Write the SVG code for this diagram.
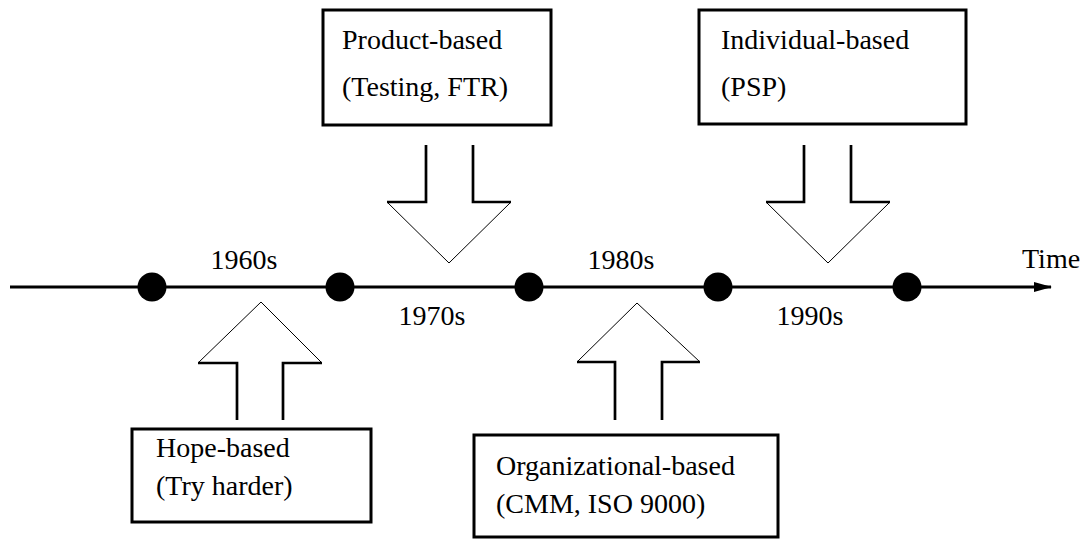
<svg xmlns="http://www.w3.org/2000/svg" width="1081" height="548" viewBox="0 0 1081 548">
<style>
text{font-family:"Liberation Serif","Times New Roman",serif;font-size:28px;fill:#000}
.box{fill:#fff;stroke:#000;stroke-width:3}
.shaft{fill:none;stroke:#000;stroke-width:2.7}
.head{fill:none;stroke:#000;stroke-width:1}
.dot{fill:#000}
</style>
<defs>
<marker id="ah" markerWidth="18" markerHeight="10" refX="17" refY="5" orient="auto" markerUnits="userSpaceOnUse">
<path d="M0,0 L18,5 L0,10 Z" fill="#000"/>
</marker>
</defs>
<g id="connectors">
<line x1="10" y1="287" x2="1051" y2="287" stroke="#000" stroke-width="3" marker-end="url(#ah)"/>
</g>
<g id="dots">
<circle class="dot" cx="152" cy="287" r="14.5"/>
<circle class="dot" cx="340" cy="287" r="14.5"/>
<circle class="dot" cx="529" cy="287" r="14.5"/>
<circle class="dot" cx="718" cy="287" r="14.5"/>
<circle class="dot" cx="907" cy="287" r="14.5"/>
</g>
<g id="labels">
<text x="244" y="269" text-anchor="middle">1960s</text>
<text x="432" y="325" text-anchor="middle">1970s</text>
<text x="621" y="269" text-anchor="middle">1980s</text>
<text x="810" y="325" text-anchor="middle">1990s</text>
<text x="1022" y="268">Time</text>
</g>
<g id="product">
<rect class="box" x="323" y="10" width="228" height="115"/>
<text x="342" y="49">Product-based</text>
<text x="342" y="96">(Testing, FTR)</text>
<path class="shaft" d="M426,145 V202 H387 M473,145 V202 H511"/>
<path class="head" d="M387,202 L449,263 L511,202"/>
</g>
<g id="individual">
<rect class="box" x="699" y="10" width="267" height="114"/>
<text x="721" y="49">Individual-based</text>
<text x="721" y="96">(PSP)</text>
<path class="shaft" d="M804,145 V202 H766 M851,145 V202 H890"/>
<path class="head" d="M766,202 L828,263 L890,202"/>
</g>
<g id="hope">
<rect class="box" x="132" y="429" width="239" height="93"/>
<text x="156" y="457">Hope-based</text>
<text x="156" y="495">(Try harder)</text>
<path class="shaft" d="M237,420 V363 H198 M283,420 V363 H322"/>
<path class="head" d="M198,363 L261,302 L322,363"/>
</g>
<g id="organizational">
<rect class="box" x="474" y="435" width="304" height="102"/>
<text x="496" y="475">Organizational-based</text>
<text x="496" y="513">(CMM, ISO 9000)</text>
<path class="shaft" d="M615,420 V362 H577 M662,420 V362 H700"/>
<path class="head" d="M577,362 L637,303 L700,362"/>
</g>
</svg>
